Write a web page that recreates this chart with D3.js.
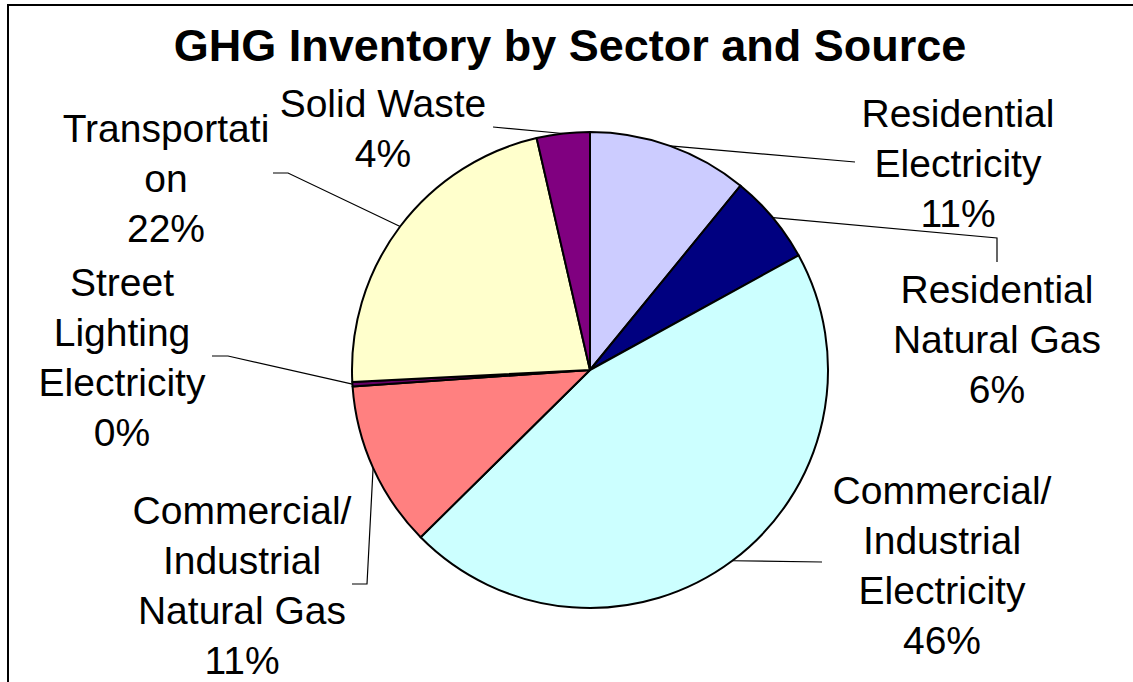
<!DOCTYPE html>
<html>
<head>
<meta charset="utf-8">
<script src="https://cdn.jsdelivr.net/npm/d3@7"></script>
<style>
  body { margin: 0; background: #fff; }
  svg { display: block; }
  text { font-family: "Liberation Sans", Arial, sans-serif; fill: #000; }
</style>
</head>
<body>
<div id="chart"></div>
<script>
// data (share of total, %)
var sectors = [
  [ "Residential", "Electricity" ],
  [ "Residential", "Natural Gas" ],
  [ "Commercial/", "Industrial", "Electricity" ],
  [ "Commercial/", "Industrial", "Natural Gas" ],
  [ "Street", "Lighting", "Electricity" ],
  [ "Transportati", "on" ],
  [ "Solid Waste" ]
];
var shares = [ 10.9, 6.1, 45.6, 11.3, 0.3, 22.2, 3.6 ];
var colors = [ "#ccccff", "#000080", "#ccffff", "#ff8080", "#660066", "#ffffcc", "#800080" ];

// label layout: centre x, first baseline, and leader line points after the arc edge
var labelPos = [
  { x: 958, y: 127, leader: [ [ 855, 162 ] ] },
  { x: 997, y: 303, leader: [ [ 997, 238 ], [ 997, 262 ] ] },
  { x: 942, y: 504, leader: [ [ 822, 562 ] ] },
  { x: 242, y: 524, leader: [ [ 367, 584 ], [ 352, 584 ] ] },
  { x: 122, y: 296, leader: [ [ 228, 356 ], [ 212, 356 ] ] },
  { x: 166, y: 142, leader: [ [ 288, 173 ], [ 273, 173 ] ] },
  { x: 383, y: 117, leader: [ [ 493, 127 ] ] }
];

var width = 1133, height = 682;
var cx = 590, cy = 370, radius = 238;
var lineH = 50;

var svg = d3.select( "#chart" ).append( "svg" )
  .attr( "width", width )
  .attr( "height", height );

// chart area border (runs off the right and bottom)
svg.append( "rect" )
  .attr( "x", 8 )
  .attr( "y", 5 )
  .attr( "width", 1300 )
  .attr( "height", 900 )
  .style( "fill", "none" )
  .style( "stroke", "#000" )
  .style( "stroke-width", 2 );

svg.append( "text" )
  .attr( "x", 570 )
  .attr( "y", 61 )
  .attr( "text-anchor", "middle" )
  .style( "font-size", "45px" )
  .style( "font-weight", "bold" )
  .text( "GHG Inventory by Sector and Source" );

var pie = d3.pie()
  .sort( null )
  .value( function( d ) { return d; } );

var arcs = pie( shares );
var total = d3.sum( shares );

var arc = d3.arc()
  .innerRadius( 0 )
  .outerRadius( radius );

var g = svg.append( "g" )
  .attr( "transform", "translate(" + cx + "," + cy + ")" );

g.selectAll( "path.slice" )
  .data( arcs )
  .enter()
  .append( "path" )
    .attr( "class", "slice" )
    .attr( "d", arc )
    .style( "fill", function( d, i ) { return colors[ i ]; } )
    .style( "stroke", "#000" )
    .style( "stroke-width", 2 )
    .style( "stroke-linejoin", "round" );

// leader lines start at the middle of each slice's outer edge
var line = d3.line();
svg.selectAll( "path.leader" )
  .data( arcs )
  .enter()
  .append( "path" )
    .attr( "class", "leader" )
    .attr( "d", function( d, i ) {
      var a = ( d.startAngle + d.endAngle ) / 2;
      var start = [ cx + radius * Math.sin( a ), cy - radius * Math.cos( a ) ];
      return line( [ start ].concat( labelPos[ i ].leader ) );
    } )
    .style( "fill", "none" )
    .style( "stroke", "#000" )
    .style( "stroke-width", 1.2 );

var fmt = d3.format( ".0f" );

var labels = svg.selectAll( "text.label" )
  .data( arcs )
  .enter()
  .append( "text" )
    .attr( "class", "label" )
    .attr( "text-anchor", "middle" )
    .style( "font-size", "39px" );

labels.each( function( d, i ) {
  var lines = sectors[ i ].concat( [ fmt( d.value / total * 100 ) + "%" ] );
  d3.select( this ).selectAll( "tspan" )
    .data( lines )
    .enter()
    .append( "tspan" )
      .attr( "x", labelPos[ i ].x )
      .attr( "y", function( t, j ) { return labelPos[ i ].y + j * lineH; } )
      .text( function( t ) { return t; } );
} );
</script>
</body>
</html>
